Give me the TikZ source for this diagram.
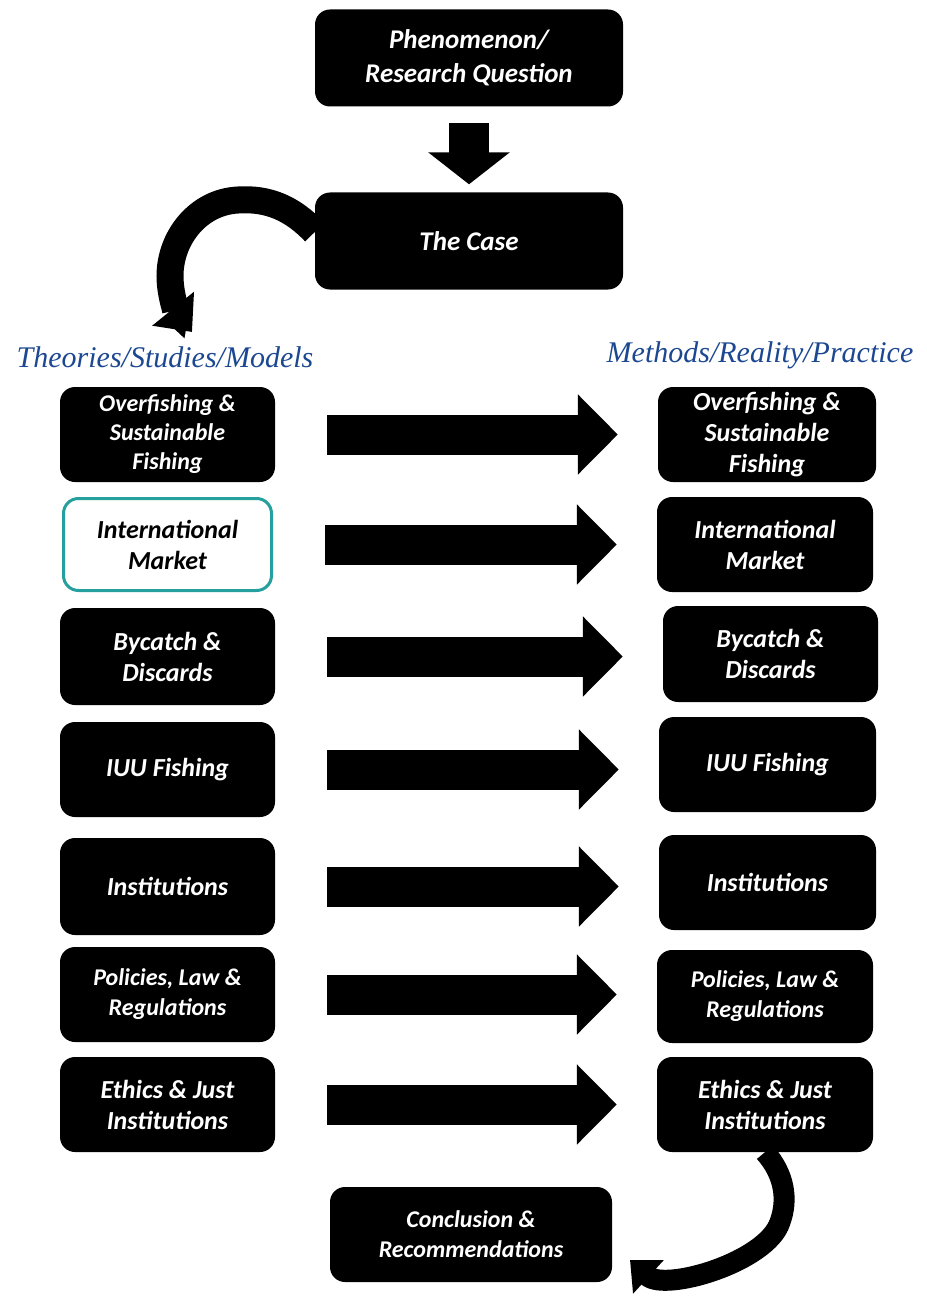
\documentclass[tikz,border=0pt]{standalone}
\usepackage{fontspec}
\setmainfont{Carlito}
\newfontfamily\headfont{Liberation Serif}
\usetikzlibrary{arrows.meta}
\definecolor{headblue}{RGB}{28,72,145}
\definecolor{boxteal}{RGB}{38,160,158}
\tikzset{
  box/.style={rectangle, rounded corners=15pt, fill=black, text=white, align=center,
    inner sep=0pt, minimum width=215pt, minimum height=95pt,
    font=\fontsize{26}{31}\selectfont\bfseries\itshape},
  tealbox/.style={box, fill=white, text=black, draw=boxteal, line width=3pt,
    minimum width=208pt, minimum height=92pt},
  colhead/.style={text=headblue, font=\fontsize{30}{34}\selectfont\headfont\itshape},
  blockarrow/.style={line width=40pt, -{Triangle[length=40pt,width=78pt]}},
  bendarrow/.style={line width=27pt, -{Triangle[length=30pt,width=52pt]}}
}
\begin{document}
\begin{tikzpicture}[x=1pt,y=-1pt]
  \useasboundingbox (0,0) rectangle (926,1297);
  % top of the chain
  \node[box, minimum width=308pt, minimum height=97pt, font=\fontsize{27}{34}\selectfont\bfseries\itshape]
    (phen) at (469,58) {Phenomenon/\\Research Question};
  \node[box, minimum width=308pt, minimum height=97pt, font=\fontsize{27}{34}\selectfont\bfseries\itshape]
    (case) at (469,241) {The Case};
  \draw[blockarrow, -{Triangle[length=32pt,width=80pt]}, shorten <=16pt, shorten >=8pt]
    (phen.south) -- (case.north);

  % column heads
  \node[colhead] (theo) at (165,357) {Theories/Studies/Models};
  \node[colhead] (meth) at (760,355) {Methods/Reality/Practice};

  % left column
  \node[box, font=\fontsize{24}{29}\selectfont\bfseries\itshape] (l1) at (167.5,434.5) {Overfishing \&\\Sustainable\\Fishing};
  \node[tealbox] (l2) at (167.5,544.5) {International\\Market};
  \node[box, minimum height=97pt] (l3) at (167.5,656.5) {Bycatch \&\\Discards};
  \node[box] (l4) at (167.5,769.5) {IUU Fishing};
  \node[box, minimum height=97pt] (l5) at (167.5,886.5) {Institutions};
  \node[box, font=\fontsize{24}{30}\selectfont\bfseries\itshape] (l6) at (167.5,994.5) {Policies, Law \&\\Regulations};
  \node[box] (l7) at (167.5,1104.5) {Ethics \& Just\\Institutions};

  % right column
  \node[box, minimum width=218pt] (r1) at (767,434.5) {Overfishing \&\\Sustainable\\Fishing};
  \node[box, minimum width=216pt] (r2) at (765,544.5) {International\\Market};
  \node[box, minimum height=96pt] (r3) at (770.5,654) {Bycatch \&\\Discards};
  \node[box, minimum width=217pt] (r4) at (767.5,764.5) {IUU Fishing};
  \node[box, minimum width=217pt] (r5) at (767.5,882.5) {Institutions};
  \node[box, minimum width=216pt, minimum height=93pt, font=\fontsize{24}{30}\selectfont\bfseries\itshape] (r6) at (765,996.5) {Policies, Law \&\\Regulations};
  \node[box, minimum width=216pt] (r7) at (765,1104.5) {Ethics \& Just\\Institutions};

  \node[box, minimum width=282pt, font=\fontsize{24}{30}\selectfont\bfseries\itshape]
    (concl) at (471,1234.5) {Conclusion \&\\Recommendations};

  \foreach \i in {1,...,7}{
    \draw[blockarrow, shorten <=52pt, shorten >=40pt] (l\i.east) -- (l\i.east -| r\i.west);
  } % one arrow per row

  % bent arrows
  \coordinate (theotip) at (192,332);
  \coordinate (concltip) at (630,1260);
  \draw[bendarrow] ([yshift=9pt]case.west) .. controls (292,208) and (268,198) .. (238,200)
    .. controls (198,202) and (170,238) .. (170,276)
    .. controls (170,298) and (179,316) .. (theotip);
  \draw[bendarrow, line width=21pt, -{Triangle[length=25pt,width=44pt]}]
    (r7.south) .. controls (785,1175) and (788,1200) .. (780,1222)
    .. controls (767,1262) and (665,1292) .. (concltip);
\end{tikzpicture}
\end{document}
